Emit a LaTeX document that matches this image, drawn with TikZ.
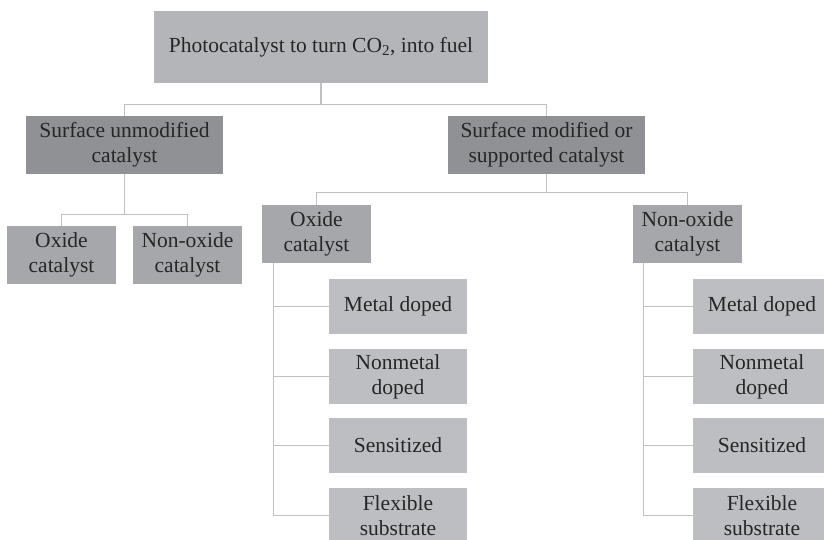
\documentclass[tikz,border=0pt]{standalone}
\usepackage{fontspec}
\setmainfont{Liberation Serif}
\newfontfamily\boxfont{Liberation Serif}
\usepackage{tikz}
\usetikzlibrary{positioning, calc}
\definecolor{rootgray}{RGB}{180,181,185}
\definecolor{groupgray}{RGB}{144,145,149}
\definecolor{typegray}{RGB}{166,167,171}
\definecolor{leafgray}{RGB}{189,190,194}
\definecolor{linegray}{RGB}{192,192,194}

\begin{document}
\begin{tikzpicture}[x=1pt, y=-1pt,
  box/.style={inner sep=0pt, align=center, text=black!85,
              font=\boxfont\fontsize{21.5}{25}\selectfont},
  rootbox/.style={box, fill=rootgray, minimum width=334pt, minimum height=72pt},
  groupbox/.style={box, fill=groupgray, minimum width=197pt, minimum height=58pt},
  typebox/.style={box, fill=typegray, minimum width=109pt, minimum height=58pt},
  leafbox/.style={box, fill=leafgray, minimum width=138pt, minimum height=55pt},
  link/.style={draw=linegray, line width=1.3pt}]
  \useasboundingbox (0,0) rectangle (824,539);

  % Root
  \node[rootbox] (root) at (321,47)
    {Photocatalyst to turn CO\textsubscript{2}, into fuel};

  % Two groups of catalyst
  \node[groupbox] (unmod) at (124.5,145) {Surface unmodified\\catalyst};
  \node[groupbox] (mod) at (546.5,145) {Surface modified or\\supported catalyst};

  % Unmodified types
  \node[typebox] (uox) at (61.5,255) {Oxide\\catalyst};
  \node[typebox] (unox) at (187.5,255) {Non-oxide\\catalyst};

  % Modified types
  \node[typebox] (mox) at (316.5,234) {Oxide\\catalyst};
  \node[typebox] (mnox) at (687.5,234) {Non-oxide\\catalyst};

  % Leaves under each modified type
  \foreach \side/\x in {l/398, r/762} {
    \node[leafbox] (\side metal) at (\x,306.5) {Metal doped};
    \node[leafbox] (\side nonmetal) at (\x,376.5) {Nonmetal\\doped};
    \node[leafbox] (\side sens) at (\x,445.5) {Sensitized};
    \node[leafbox] (\side flex) at (\x,515.5) {Flexible\\substrate};
  }

  % Tree connectors
  \draw[link] (root.south) -- ++(0,21) -| (unmod.north);
  \draw[link] (root.south) -- ++(0,21) -| (mod.north);
  \draw[link] (unmod.south) -- ++(0,40) -| (uox.north);
  \draw[link] (unmod.south) -- ++(0,40) -| (unox.north);
  \draw[link] (mod.south) -- ++(0,18) -| (mox.north);
  \draw[link] (mod.south) -- ++(0,18) -| (mnox.north);

  % Side branches to leaves
  \foreach \n in {metal, nonmetal, sens, flex} {
    \draw[link] ([xshift=12pt]mox.south west) |- (l\n.west);
    \draw[link] ([xshift=11pt]mnox.south west) |- (r\n.west);
  }
\end{tikzpicture}
\end{document}
